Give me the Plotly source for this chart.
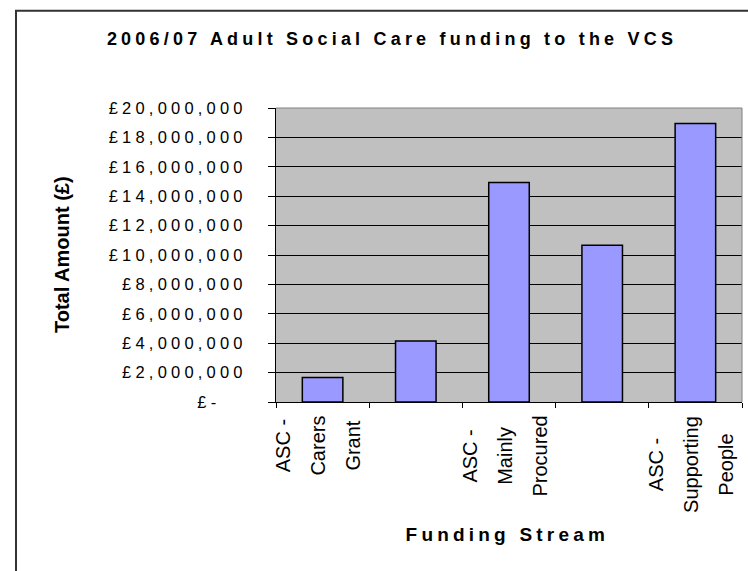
import plotly.graph_objects as go

# ---- data ----
categories = [
    "ASC -<br>Carers<br>Grant",
    "",
    "ASC -<br>Mainly<br>Procured",
    "",
    "ASC -<br>Supporting<br>People",
]
values = [1660000, 4150000, 14930000, 10660000, 18950000]
y_tickvals = [0, 2e6, 4e6, 6e6, 8e6, 10e6, 12e6, 14e6, 16e6, 18e6, 20e6]
y_ticktext = ["£-\u00a0\u00a0\u00a0", "£2,000,000", "£4,000,000", "£6,000,000", "£8,000,000",
              "£10,000,000", "£12,000,000", "£14,000,000", "£16,000,000", "£18,000,000",
              "£20,000,000"]
title_text = "2006/07 Adult Social Care funding to the VCS"
x_title = "Funding Stream"
y_title = "Total Amount (£)"

FONT = "Liberation Sans, Arial, sans-serif"
xs = list(range(len(values)))

fig = go.Figure()
fig.add_trace(go.Bar(
    x=xs, y=values, width=0.435,
    marker=dict(color="#9999FF", line=dict(color="black", width=1.5)),
    hoverinfo="skip",
))

W, H = 748, 571
ml, mr, mt, mb = 276, 6, 108, 169
pw = W - ml - mr
ph = H - mt - mb

def px_to_paper_x(px):
    return (px - ml) / pw

def px_to_paper_y(py):
    return 1 - (py - mt) / ph

annotations = [
    dict(text="<b>%s</b>" % y_title, textangle=-90, xref="paper", yref="paper",
         x=px_to_paper_x(62), y=0.5, xanchor="center", yanchor="middle",
         showarrow=False, font=dict(family=FONT, size=20, color="black")),
    dict(text="<b>%s</b>" % x_title, xref="paper", yref="paper",
         x=px_to_paper_x(507), y=px_to_paper_y(534), xanchor="center", yanchor="middle",
         showarrow=False, font=dict(family=FONT, size=19, color="black")),
]
for i, cat in enumerate(categories):
    if not cat:
        continue
    lines = cat.split("<br>")
    txt = "<br>".join('<span style="font-size:20px">%s</span>' % ln for ln in lines)
    annotations.append(dict(
        text=txt, textangle=-90, xref="x", yref="paper", x=xs[i], xshift=-5,
        y=px_to_paper_y(414), xanchor="center", yanchor="top", align="center",
        showarrow=False, font=dict(family=FONT, size=27, color="black"),
    ))

shapes = [
    # outer chart border (extends past right/bottom edges)
    dict(type="rect", xref="paper", yref="paper",
         x0=px_to_paper_x(16), x1=2.0, y0=-2.0, y1=px_to_paper_y(10.7),
         line=dict(color="#333333", width=2), fillcolor="rgba(0,0,0,0)", layer="above"),
    # gray plot-area border top and right
    dict(type="path", xref="paper", yref="paper", path="M 0,1 L 1,1 L 1,0",
         line=dict(color="#808080", width=1), layer="above"),
]

fig.update_layout(
    width=W, height=H,
    margin=dict(l=ml, r=mr, t=mt, b=mb),
    paper_bgcolor="white", plot_bgcolor="#C0C0C0",
    showlegend=False,
    font=dict(family=FONT, color="black"),
    title=dict(text="<b>%s</b>" % title_text, x=392 / W, xref="container", xanchor="center",
               y=1 - 39 / H, yref="container", yanchor="middle",
               font=dict(family=FONT, size=18, color="black")),
    xaxis=dict(range=[-0.5, len(values) - 0.5],
               tickvals=[i - 0.5 for i in range(len(values) + 1)],
               showticklabels=False, ticks="outside", ticklen=5, tickcolor="black",
               showline=True, linecolor="black", linewidth=1,
               showgrid=False, zeroline=False, fixedrange=True),
    yaxis=dict(range=[0, 20e6], tickvals=y_tickvals, ticktext=y_ticktext,
               ticks="outside", ticklen=7, tickcolor="black", ticklabelstandoff=18,
               showline=True, linecolor="black", linewidth=1,
               showgrid=True, gridcolor="black", gridwidth=1, zeroline=False,
               tickfont=dict(family=FONT, size=16.5, color="black"), fixedrange=True),
    annotations=annotations,
    shapes=shapes,
)

post = """
var gd = document.getElementById('{plot_id}');
function applySpacing(){
  var sel = gd.querySelectorAll('.gtitle, .ytick text, .annotation[data-index="1"] text');
  sel.forEach(function(e){ e.style.letterSpacing = '4.2px'; });
}
applySpacing();
if (gd.on) { gd.on('plotly_afterplot', applySpacing); }
"""

fig.write_html("out.html", post_script=post, config={"displayModeBar": False})
